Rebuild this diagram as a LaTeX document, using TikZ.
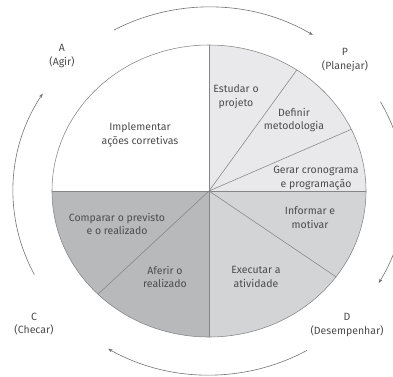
\documentclass[tikz,border=0pt]{standalone}
\usepackage{fontspec}
\setmainfont{Fira Sans}
\usetikzlibrary{arrows.meta}
\definecolor{planfill}{HTML}{E9E9EB}
\definecolor{dofill}{HTML}{D3D4D6}
\definecolor{checkfill}{HTML}{B8B9BB}
\begin{document}
\begin{tikzpicture}[x=1pt,y=1pt,
  lbl/.style={align=center,font=\fontsize{10.5}{13.8}\selectfont,text=black!70,inner sep=0pt},
  divider/.style={draw=black!48,line width=0.55pt},
  wheel/.style={x radius=157pt,y radius=146pt},
  ring/.style={x radius=196pt,y radius=184pt},
  cycle/.style={draw=black!55,line width=0.6pt,-{Stealth[length=4.5pt,width=3.2pt]}}]
\useasboundingbox (-209,-185) rectangle (184,191);
\clip (-209,-185) rectangle (184,191);
% sectors of the wheel
\fill[white] (0,0) -- (90:157pt and 146pt) arc[start angle=90,end angle=180,wheel] -- cycle;
\fill[planfill] (0,0) -- (0:157pt and 146pt) arc[start angle=0,end angle=90,wheel] -- cycle;
\fill[dofill] (0,0) -- (-90:157pt and 146pt) arc[start angle=-90,end angle=0,wheel] -- cycle;
\fill[checkfill] (0,0) -- (180:157pt and 146pt) arc[start angle=180,end angle=270,wheel] -- cycle;
% outline and dividers
\draw[divider] (0,0) ellipse[wheel];
\foreach \a in {90,56,25,0,-36,-90,-135,180}
  \draw[divider] (0,0) -- (\a:157pt and 146pt);
% cycle arrows
\draw[cycle] (119:196pt and 184pt) arc[start angle=119,end angle=58,ring];
\draw[cycle] (29:196pt and 184pt) arc[start angle=29,end angle=-30,ring];
\draw[cycle] (-60:196pt and 184pt) arc[start angle=-60,end angle=-121,ring];
\draw[cycle] (207:196pt and 184pt) arc[start angle=207,end angle=148,ring];
% phase labels
\node[lbl] (pA) at (-147,135) {A\\(Agir)};
\node[lbl] (pP) at (136,131) {P\\(Planejar)};
\node[lbl] (pC) at (-175,-133) {C\\(Checar)};
\node[lbl] (pD) at (138,-134) {D\\(Desempenhar)};
% sector texts
\node[lbl] (s1) at (-69,56) {Implementar\\ações corretivas};
\node[lbl] (s2) at (27,94) {Estudar o\\projeto};
\node[lbl] (s3) at (85,71) {Definir\\metodologia};
\node[lbl] (s4) at (107,13) {Gerar cronograma\\e programação};
\node[lbl] (s5) at (101,-27) {Informar e\\motivar};
\node[lbl] (s6) at (47,-86) {Executar a\\atividade};
\node[lbl] (s7) at (-92,-33) {Comparar o previsto\\e o realizado};
\node[lbl] (s8) at (-44,-86) {Aferir o\\realizado};
\end{tikzpicture}
\end{document}
